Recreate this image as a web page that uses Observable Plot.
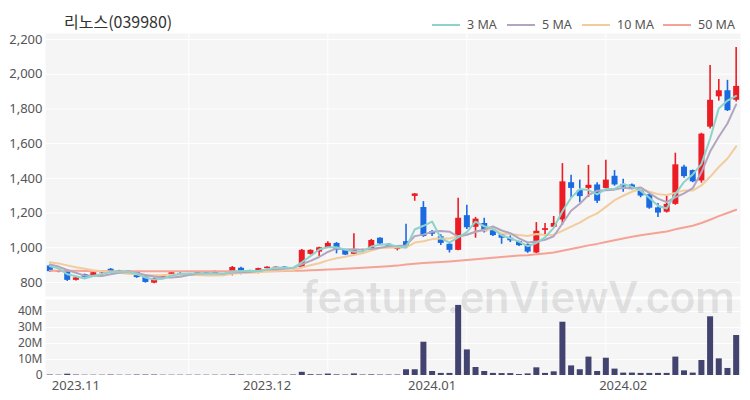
<!DOCTYPE html>
<html>
<head>
<meta charset="utf-8">
<script src="https://cdn.jsdelivr.net/npm/d3@7"></script>
<script src="https://cdn.jsdelivr.net/npm/@observablehq/plot@0.6"></script>
<style>
  html, body { margin: 0; padding: 0; background: #fff; }
  #wrap { position: relative; width: 750px; height: 400px; overflow: hidden; font-family: "Noto Sans", "Noto Sans CJK KR", sans-serif; }
  #price, #vol { position: absolute; left: 0; }
  #price { top: 0; }
  #vol { top: 297px; }
  #title { position: absolute; left: 64px; top: 9px; font-size: 16px; color: #333; font-family: "Noto Sans CJK KR", "Noto Sans", sans-serif; white-space: nowrap; }
  .lg-line { position: absolute; height: 2px; width: 28px; top: 24px; }
  .lg-text { position: absolute; top: 16px; font-size: 12.5px; color: #555; white-space: nowrap; line-height: 18px; }
  #wm { position: absolute; left: 0; top: 0; pointer-events: none; }
</style>
</head>
<body>
<div id="wrap">
  <div id="price"></div>
  <div id="vol"></div>
  <div id="title">리노스(039980)</div>
  <div id="legend"></div>
  <svg id="wm" width="750" height="400"></svg>
</div>
<script>
// ---- data ----
const xTickIndex = [3, 25, 44, 66];
const xTickLabels = ["2023.11", "2023.12", "2024.01", "2024.02"];
const yTicks = [800, 1000, 1200, 1400, 1600, 1800, 2000, 2200];
const volTicks = [0, 10, 20, 30, 40];
const volTickLabels = ["0", "10M", "20M", "30M", "40M"];
const gridIndex = [16, 32, 48, 64];

const open = [895,860,868,812,845,834,855,876,861,866, 860,832,796,830,836,852,842,846,856,862,
  842,846,882,866,852,880,882,888,880,882, 962,975,998,1025,985,962,985,995,1055,1020,
  990,1035,1296,1232,1092,1063,1020,985,1185,1118, 1140,1100,1075,1055,1035,1018,970,1100,1118,1160,
  1375,1330,1342,1362,1342,1412,1365,1362,1340,1305, 1230,1205,1250,1465,1445,1385,1695,1870,1905,1850];
const high = [902,870,872,830,848,860,864,880,870,868, 864,836,826,842,858,856,852,858,860,866,
  850,892,888,870,882,890,890,891,886,990, 988,1003,1035,1030,990,1080,992,1048,1058,1024,
  1002,1135,1312,1266,1100,1075,1024,1285,1245,1175, 1170,1106,1078,1068,1038,1022,1145,1140,1180,1485,
  1418,1390,1475,1375,1505,1445,1395,1368,1345,1310, 1255,1300,1545,1475,1448,1660,2050,1970,1965,2155];
const low = [858,856,806,808,826,832,842,860,858,852, 824,796,792,826,834,846,838,844,845,850,
  834,838,845,856,850,877,880,878,876,880, 958,950,995,965,955,958,972,993,1018,996,
  982,1000,1268,1060,1065,1013,970,982,1105,1055, 1085,1065,1020,1030,1007,968,965,1075,1115,1130,
  1290,1260,1290,1255,1335,1355,1320,1335,1288,1222, 1175,1200,1245,1400,1375,1372,1685,1845,1785,1840];
const close = [862,868,812,826,830,856,861,863,867,856, 828,800,822,840,856,849,850,856,848,852,
  848,886,860,858,880,888,888,880,884,985, 985,1000,1025,985,958,988,990,1042,1022,998,
  1000,1005,1310,1065,1078,1025,985,1170,1115,1165, 1092,1070,1055,1040,1012,975,1095,1110,1140,1380,
  1342,1295,1360,1268,1390,1362,1350,1340,1298,1228, 1200,1250,1478,1410,1380,1655,1850,1905,1790,1930];
// volume in millions of shares
const volume = [0.3,0.2,0.8,0.3,0.2,0.2,0.2,0.3,0.2,0.2, 0.3,0.3,0.3,0.2,0.2,0.2,0.2,0.2,0.2,0.2,
  0.2,0.4,0.3,0.2,0.2,0.2,0.2,0.2,0.3,2.0, 0.5,0.4,0.9,0.4,0.3,1.0,0.3,0.4,0.3,0.3,
  0.3,3.6,3.6,20.8,2.5,1.3,1.3,43.8,16.0,5.0, 2.5,1.3,1.2,1.2,0.6,1.0,4.8,1.3,2.3,33.3,
  6.0,3.6,11.5,2.5,10.8,4.0,1.5,1.5,1.3,1.3, 1.3,1.3,11.5,2.9,1.5,9.4,36.7,10.4,4.4,25.0];
// closes of the days just before the visible range (estimated from where the MA lines start)
const priorCloses = [930, 925, 935, 920, 935, 925, 910, 905, 913];
// 50-day MA read from the picture where the visible closes are not enough to compute it
const ma50Early = [868,868,867,867,866,866,866,865,865,865, 865,864,864,864,864,864,864,864,864,864,
  864,864,864,864,864,865,865,866,867,868, 870,872,874,876,879,882,885,888,891,894,
  897,904,908,912,915,918,921,925,929];

const maNames = ["3 MA", "5 MA", "10 MA", "50 MA"];
const maColors = ["#8dd3cc", "#b2a5c0", "#f2cc9c", "#f5a396"];
const upColor = "#ec1c24", downColor = "#1a6ae2", volColor = "#434370";

// ---- derived table ----
const allC = priorCloses.concat(close);
function ma(n) {
  return close.map((_, i) => {
    const j = i + priorCloses.length;
    if (j - n + 1 < 0) return NaN;
    let s = 0; for (let k = j - n + 1; k <= j; k++) s += allC[k];
    return s / n;
  });
}
const ma3 = ma(3), ma5 = ma(5), ma10 = ma(10);
const ma50 = close.map((_, i) => {
  if (i < 49) return ma50Early[i];
  let s = 0; for (let k = i - 49; k <= i; k++) s += close[k];
  return s / 50;
});
const rows = close.map((c, i) => ({
  i, open: open[i], high: high[i], low: low[i], close: c, vol: volume[i] * 1e6,
  up: c >= open[i], ma3: ma3[i], ma5: ma5[i], ma10: ma10[i], ma50: ma50[i]
}));
const colorOf = d => d.up ? upColor : downColor;

const style = { fontFamily: "'Noto Sans', sans-serif", fontSize: "13px", color: "#555", background: "transparent", overflow: "visible" };
const xDomain = [-0.5, close.length - 0.5];

const price = Plot.plot({
  width: 750, height: 297,
  marginTop: 33, marginBottom: 1, marginLeft: 45, marginRight: 10,
  style,
  x: { type: "linear", domain: xDomain, axis: null },
  y: { domain: [719, 2235], ticks: yTicks, tickFormat: d3.format(","), tickSize: 0, tickPadding: 3, label: null },
  marks: [
    Plot.frame({ fill: "#f5f5f5", stroke: "none" }),
    Plot.ruleY(yTicks, { stroke: "#fff", strokeWidth: 1 }),
    Plot.ruleX(gridIndex, { stroke: "#fff", strokeWidth: 1 }),
    Plot.ruleX(rows, { x: "i", y1: "low", y2: "high", stroke: colorOf, strokeWidth: 1.6 }),
    Plot.ruleX(rows, { x: "i", y1: "open", y2: "close", stroke: colorOf, strokeWidth: 6 }),
    Plot.line(rows, { x: "i", y: "ma50", stroke: maColors[3], strokeWidth: 2 }),
    Plot.line(rows, { x: "i", y: "ma10", stroke: maColors[2], strokeWidth: 2 }),
    Plot.line(rows, { x: "i", y: "ma5", stroke: maColors[1], strokeWidth: 2 }),
    Plot.line(rows, { x: "i", y: "ma3", stroke: maColors[0], strokeWidth: 2 })
  ]
});
document.getElementById("price").appendChild(price);

const vol = Plot.plot({
  width: 750, height: 103,
  marginTop: 2, marginBottom: 25, marginLeft: 45, marginRight: 10,
  style: { ...style, fontSize: "12px" },
  x: { type: "linear", domain: xDomain, ticks: xTickIndex, tickFormat: d => xTickLabels[xTickIndex.indexOf(d)], tickSize: 0, tickPadding: 5, label: null },
  y: { domain: [0, 47.5e6], ticks: volTicks.map(v => v * 1e6), tickFormat: d => volTickLabels[volTicks.indexOf(d / 1e6)], tickSize: 0, tickPadding: 3, label: null },
  marks: [
    Plot.frame({ fill: "#f5f5f5", stroke: "none" }),
    Plot.ruleY(volTicks.map(v => v * 1e6), { stroke: "#fff", strokeWidth: 1 }),
    Plot.ruleX(gridIndex, { stroke: "#fff", strokeWidth: 1 }),
    Plot.ruleX(rows, { x: "i", y1: 0, y2: "vol", stroke: volColor, strokeWidth: 6 })
  ]
});
document.getElementById("vol").appendChild(vol);
// keep the month labels at the price-axis size
vol.querySelectorAll("[aria-label='x-axis tick label'] text, g[aria-label='x-axis'] text").forEach(el => el.setAttribute("font-size", 13));

// legend
const legend = document.getElementById("legend");
const lgLine = [432, 507, 582, 663], lgText = [467, 542, 617, 698];
maNames.forEach((n, k) => {
  const l = document.createElement("div");
  l.className = "lg-line"; l.style.left = lgLine[k] + "px"; l.style.background = maColors[k];
  const t = document.createElement("div");
  t.className = "lg-text"; t.style.left = lgText[k] + "px"; t.textContent = n;
  legend.appendChild(l); legend.appendChild(t);
});

// watermark
const wm = document.getElementById("wm");
const t = document.createElementNS("http://www.w3.org/2000/svg", "text");
t.setAttribute("x", 302); t.setAttribute("y", 313);
t.setAttribute("textLength", 433); t.setAttribute("lengthAdjust", "spacingAndGlyphs");
t.setAttribute("font-family", "Roboto, 'Noto Sans', sans-serif");
t.setAttribute("font-weight", 500);
t.setAttribute("font-size", 45);
t.setAttribute("fill", "rgba(0,0,0,0.10)");
t.textContent = "feature.enViewV.com";
wm.appendChild(t);
</script>
</body>
</html>
